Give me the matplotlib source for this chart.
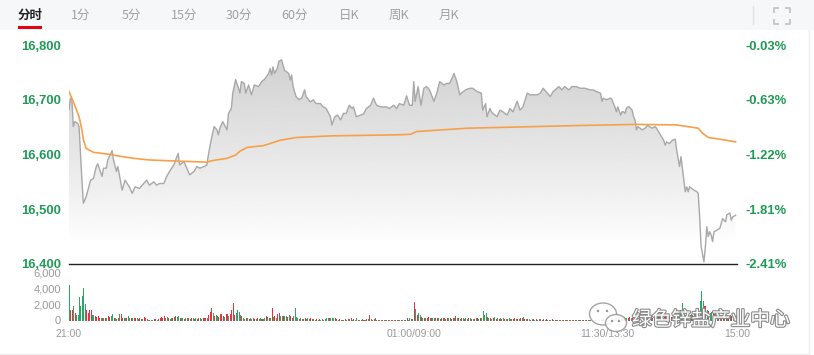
import matplotlib
matplotlib.use('Agg')
import matplotlib.pyplot as plt
import numpy as np
from matplotlib.patches import Rectangle, Ellipse
import matplotlib.patheffects as pe

# ---------------- data ----------------
TABS = ['分时', '1分', '5分', '15分', '30分', '60分', '日K', '周K', '月K']
PRICE_TICKS = [16400, 16500, 16600, 16700, 16800]
PRICE_LABELS = ['16,400', '16,500', '16,600', '16,700', '16,800']
PCT_LABELS = ['-2.41%', '-1.81%', '-1.22%', '-0.63%', '-0.03%']
VOL_TICKS = [0, 2000, 4000, 6000]
VOL_LABELS = ['0', '2,000', '4,000', '6,000']
TIME_TICKS = [0, 240, 375, 465]
TIME_LABELS = ['21:00', '01:00/09:00', '11:30/13:30', '15:00']

PRICE_MIN = [0, 1, 2, 3, 4, 6, 7, 8, 9, 10, 12, 15, 17, 19, 20, 23, 24, 26, 27, 30, 31, 33, 34, 37, 39,
             42, 44, 46, 49, 52, 54, 56, 59, 61, 63, 66, 68, 70, 73, 76, 77, 80, 82, 84, 87, 89, 91, 94,
             96, 97, 99, 101, 103, 104, 105, 107, 110, 111, 113, 114, 116,
             118, 119, 120, 122, 123, 125, 126, 127, 129, 132, 134, 136, 139, 140, 141, 142, 143, 145,
             146, 148, 149, 150, 153, 154, 155, 156, 158, 160, 162, 164, 165, 168, 170, 172, 175, 177,
             179, 182, 183, 185, 187, 189, 191, 193, 195, 197, 198, 200, 203, 205, 207, 210, 212, 214,
             217, 219, 221, 223, 226, 228, 230, 233, 235,
             237, 239, 240, 241, 243, 245, 247, 249, 251, 254, 256, 258, 261, 263, 265, 268, 270, 272,
             273, 276, 279, 281, 284, 287, 288, 290, 291, 293, 294, 295, 298, 300, 302, 305, 307, 309,
             312, 314, 316, 319, 321, 323, 326, 328, 330, 333, 335, 337, 341, 343, 345, 348, 350, 353, 356,
             359, 363, 365, 367, 370, 371, 372, 374, 377, 378, 379, 380, 381, 382, 384, 385, 386, 387,
             388, 389, 390, 392, 393, 394, 395, 396, 399, 401, 403, 404, 406, 408, 409, 411, 414, 415,
             416, 418, 420, 422, 423, 425, 426, 428, 429, 430, 431, 432, 435, 437, 438, 439, 440, 442,
             443, 444, 445, 446, 447, 448, 449, 451, 453, 454, 455, 457, 458, 460, 461, 462, 464]
PRICE_VAL = [16681, 16703, 16700, 16651, 16660, 16657, 16651, 16602, 16553, 16511, 16523, 16553, 16556,
             16578, 16583, 16560, 16575, 16575, 16590, 16607, 16590, 16569, 16578, 16535, 16553, 16541,
             16529, 16541, 16538, 16547, 16553, 16544, 16550, 16544, 16547, 16547, 16560, 16569, 16581,
             16602, 16581, 16587, 16575, 16563, 16569, 16578, 16575, 16578, 16581, 16599, 16627, 16651,
             16645, 16636, 16648, 16660, 16645, 16675, 16684, 16712, 16737,
             16721, 16712, 16733, 16730, 16712, 16727, 16718, 16709, 16727, 16724, 16733, 16737, 16748,
             16757, 16745, 16760, 16748, 16757, 16770, 16773, 16763, 16754, 16748, 16736, 16745, 16724,
             16706, 16700, 16703, 16718, 16706, 16696, 16700, 16693, 16693, 16687, 16684, 16669, 16654,
             16669, 16672, 16663, 16675, 16675, 16690, 16684, 16687, 16669, 16672, 16674, 16684, 16690,
             16703, 16690, 16687, 16687, 16687, 16684, 16690, 16684, 16693, 16690, 16707,
             16690, 16690, 16733, 16697, 16724, 16690, 16721, 16724, 16718, 16697, 16712, 16733, 16727,
             16730, 16730, 16748, 16733, 16709, 16712, 16718, 16721, 16721, 16715, 16712, 16681, 16693,
             16669, 16684, 16678, 16675, 16669, 16681, 16678, 16672, 16684, 16678, 16697, 16681, 16687,
             16712, 16709, 16709, 16709, 16712, 16721, 16712, 16706, 16715, 16724, 16718, 16724, 16718,
             16724, 16724, 16721,
             16721, 16718, 16718, 16715, 16712, 16697, 16703, 16700, 16703, 16700, 16693, 16687, 16678,
             16687, 16672, 16678, 16678, 16675, 16684, 16687, 16687, 16681, 16669, 16663, 16645, 16651,
             16645, 16648, 16654, 16651, 16648, 16651, 16648, 16639, 16626, 16617, 16623, 16620, 16626,
             16628, 16608, 16578, 16596, 16553, 16532, 16541, 16532, 16541, 16535, 16532, 16529, 16486,
             16432, 16404, 16432, 16468, 16450, 16459, 16453, 16441, 16459, 16462, 16465, 16474, 16483,
             16477, 16490, 16493, 16480, 16486, 16489]

AVG_MIN = [0, 4, 7, 9, 10, 12, 17, 29, 35, 45, 56, 75, 96, 100, 110, 116, 119, 124, 135, 140, 147,
           158, 182, 230, 238, 242, 277, 356, 395, 423, 438, 441, 445, 453, 464]
AVG_VAL = [16715, 16690, 16669, 16645, 16627, 16611, 16604, 16600, 16597, 16593, 16590, 16588, 16586,
           16589, 16593, 16599, 16606, 16613, 16616, 16620, 16626, 16631, 16634, 16636, 16637, 16642,
           16648, 16653, 16655, 16654, 16648, 16639, 16631, 16628, 16623]

VOL = [
    4400, 1350, 1350, 1850, 950, 740, 740, 2870, 1760, 3000, 4000, 2050, 1350, 950, 1350,
    1270, 660, 660, 530, 410, 600, 330, 250, 300, 250, 300, 250, 500, 450, 500,
    800, 300, 250, 200, 250, 800, 800, 350, 300, 350, 300, 500, 300, 250, 350,
    300, 250, 350, 200, 300, 150, 200, 400, 350, 150, 100, 100, 100, 60, 200,
    200, 100, 200, 350, 400, 350, 500, 300, 400, 250, 200, 300, 300, 450, 500,
    450, 600, 300, 250, 300, 200, 300, 250, 300, 200, 250, 300, 200, 250, 200,
    300, 250, 200, 300, 250, 250, 300, 700, 1000, 1500, 900, 500, 700, 600, 400,
    800, 800, 500, 400, 800, 800, 500, 800, 1300, 2200, 700, 900, 1300, 1000, 700,
    500, 300, 200, 300, 250, 200, 300, 200, 250, 150, 200, 300, 200, 250, 200,
    200, 300, 600, 400, 300, 300, 1600, 400, 500, 300, 800, 900, 500, 600, 500,
    600, 500, 400, 700, 600, 300, 500, 1600, 400, 300, 200, 300, 200, 150, 250,
    200, 300, 150, 250, 200, 150, 100, 150, 100, 200, 100, 150, 100, 200, 300,
    300, 250, 300, 350, 300, 250, 150, 100, 150, 100, 80, 100, 150, 100, 200,
    150, 350, 100, 150, 100, 300, 100, 80, 100, 150, 100, 80, 150, 200, 700,
    150, 100, 150, 250, 100, 80, 50, 100, 80, 60, 100, 50, 80, 100, 60,
    100, 80, 60, 100, 50, 80, 100, 60, 80, 120, 300, 100, 300, 150, 200,
    2250, 1400, 740, 950, 740, 400, 350, 300, 250, 300, 400, 300, 250, 300, 350,
    300, 250, 300, 200, 250, 300, 250, 200, 300, 250, 300, 200, 250, 300, 530,
    300, 250, 200, 250, 300, 200, 250, 200, 300, 250, 200, 150, 200, 250, 300,
    200, 250, 300, 1150, 740, 950, 450, 330, 250, 200, 250, 450, 200, 250, 200,
    300, 200, 250, 200, 150, 200, 250, 150, 200, 150, 250, 200, 150, 200, 250,
    330, 450, 200, 150, 200, 150, 100, 150, 200, 100, 150, 100, 200, 150, 100,
    200, 100, 150, 100, 80, 100, 150, 100, 80, 100, 60, 100, 80, 60, 100,
    60, 80, 100, 60, 80, 100, 60, 80, 50, 100, 60, 80, 100, 60, 80,
    100, 80, 60, 100, 80, 120, 100, 80, 150, 100, 120, 80, 150, 100, 150,
    300, 250, 400, 600, 300, 250, 300, 400, 300, 250, 300, 450, 250, 300, 350,
    400, 300, 250, 300, 350, 400, 300, 350, 300, 400, 350, 300, 400, 450, 350,
    400, 350, 450, 400, 500, 450, 400, 500, 450, 400, 550, 500, 450, 500, 400,
    450, 500, 550, 600, 700, 1350, 1000, 2200, 1150, 740, 740, 600, 700, 800, 650,
    800, 900, 1300, 1500, 2400, 3700, 2400, 1800, 1850, 1350, 1150, 950, 1000, 900, 800,
    750, 700, 800, 650, 700, 750, 600, 700, 650, 600, 700, 600, 450, 500, 400,
]
VOL_DIR = ("GRRGRGGGGGGGRRR" "RGGRRRRGRGRGRRG" "GRGGRGRRGGRGGRG" "RRGGRRGRRGGRGGR"
           "RGRRRRRGGRGGRGR" "GGRGGRGGRGRGRGR" "RGGRRRGRRRGRGGR" "RRRGRRGRRRRGGGG"
           "RGGRGRGGRRGRGGR" "GGRGRGRGRGRRGGR" "GGRGRRGGGGRGRGR" "GGRRGRGRGRGGRGG"
           "GRGGGRRGRGRGRGR" "GRGRGGRGRGRGRGR" "GRRGRGRGRGRGRGR" "RGRGRGRGRGRGGRG"
           "RGRGGRGRGRRGRGR" "GRGRGRGRRGRGRGR" "GRGRGRGGRGRGRGR" "GRGGGGRGRGRGRGR"
           "GRGRGRGRGRRGRGR" "RGRGRGRGRGRGRGR" "RGRGRGRGRGRGRGR" "GRGRGRGRGRGRGRG"
           "RGRGRGRGRGRGRGR" "GRGGRGRRGRGGRGR" "RGRGRGGRGRGRRGR" "GRGRGRGRGRRRGGR"
           "GRGRGGGGGRGGRGR" "GGGGGGGRRGRGGRG" "RGRGRRGRGRGRGRG")

# ---------------- styling ----------------
W, H = 814, 355
GREEN_TXT = '#1f9a55'
GRAY_TXT = '#9a9a9a'
NUMFONT = 'Liberation Sans'
CJK = ['Noto Sans CJK SC', 'DejaVu Sans']

fig = plt.figure(figsize=(W / 100, H / 100), dpi=100)
fig.patch.set_facecolor('white')


def fx(px):
    return px / W


def fy(py):
    return 1 - py / H


# background / chrome
bg = fig.add_axes([0, 0, 1, 1], zorder=0)
bg.set_xlim(0, W)
bg.set_ylim(H, 0)
bg.axis('off')
bg.add_patch(Rectangle((0, 0), W, 30, color='#f6f7f9', lw=0))
tab_x = [30, 81, 131, 184, 239, 295, 349, 399, 449]
for i, (t, x) in enumerate(zip(TABS, tab_x)):
    bg.text(x, 15, t, ha='center', va='center', fontsize=9, family=CJK,
            color='#222222' if i == 0 else '#a0a0a0', fontweight='bold' if i == 0 else 'normal')
bg.add_patch(Rectangle((18, 26), 24, 3, color='#e60012', lw=0))
bg.plot([753, 753], [6, 24], color='#e2e2e2', lw=1)
c = '#c8c8c8'
for (x0, y0, dx, dy) in [(774, 8, 1, 1), (790, 8, -1, 1), (774, 24, 1, -1), (790, 24, -1, -1)]:
    bg.plot([x0 + 5 * dx, x0, x0], [y0, y0, y0 + 5 * dy], color=c, lw=1.4, solid_capstyle='butt')
bg.plot([808.5, 808.5], [30, 354], color='#ececec', lw=1)
bg.plot([0, 808.5], [354, 354], color='#ececec', lw=1)

# price axes
ax = fig.add_axes([fx(69), fy(264), fx(737) - fx(69), (264 - 45) / H], zorder=2)
ax.set_facecolor('none')
ax.set_xlim(0, 465)
ax.set_ylim(16400, 16800)

poly = ax.fill_between(PRICE_MIN, PRICE_VAL, 16400, color='none', lw=0)
ys = np.linspace(16400, 16800, 400)
alpha = np.clip((ys - 16440) / (16800 - 16440), 0, 1) ** 0.9 * 0.95
img = np.zeros((400, 1, 4))
img[..., 0] = 0.80
img[..., 1] = 0.80
img[..., 2] = 0.80
img[:, 0, 3] = alpha
im = ax.imshow(img, extent=[0, 465, 16400, 16800], origin='lower', aspect='auto',
               interpolation='bilinear', zorder=1)
im.set_clip_path(poly.get_paths()[0], transform=ax.transData)

ax.plot(PRICE_MIN, PRICE_VAL, color='#a8a8a8', lw=1.0, zorder=3)
ax.plot(AVG_MIN, AVG_VAL, color='#f7a04b', lw=1.2, zorder=4)

for s in ['top', 'left', 'right']:
    ax.spines[s].set_visible(False)
ax.spines['bottom'].set_color('#222222')
ax.spines['bottom'].set_linewidth(1.0)
ax.set_xticks([])
ax.set_yticks(PRICE_TICKS)
ax.set_yticklabels(PRICE_LABELS, color=GREEN_TXT, fontweight='bold', family=NUMFONT, fontsize=9.4)
ax.tick_params(axis='y', length=0, pad=5.8)

ax2 = ax.twinx()
ax2.set_ylim(16400, 16800)
for s in ax2.spines.values():
    s.set_visible(False)
ax2.set_yticks(PRICE_TICKS)
ax2.set_yticklabels(PCT_LABELS, color=GREEN_TXT, fontweight='bold', family=NUMFONT, fontsize=9.4)
ax2.tick_params(axis='y', length=0, pad=6.3)

# volume axes
vax = fig.add_axes([fx(69), fy(320.5), fx(737) - fx(69), (320.5 - 272) / H], zorder=2)
vax.set_facecolor('none')
vax.set_xlim(0, 465)
vax.set_ylim(0, 6000)
n = min(len(VOL), len(VOL_DIR))
cols = ['#e8333f' if VOL_DIR[i] == 'R' else '#2ca565' for i in range(n)]
vax.bar(np.arange(n), VOL[:n], width=0.7, color=cols, lw=0, align='edge')
for s in vax.spines.values():
    s.set_visible(False)
vax.set_yticks(VOL_TICKS)
vax.set_yticklabels(VOL_LABELS, color=GRAY_TXT, family=NUMFONT, fontsize=8)
vax.set_xticks(TIME_TICKS)
vax.set_xticklabels(TIME_LABELS, color=GRAY_TXT, family=NUMFONT, fontsize=7.5)
vax.tick_params(axis='both', length=0)
vax.tick_params(axis='y', pad=5.8)
vax.tick_params(axis='x', pad=6.0)

# watermark overlay
fg = fig.add_axes([0, 0, 1, 1], zorder=5)
fg.set_facecolor('none')
fg.set_xlim(0, W)
fg.set_ylim(H, 0)
fg.axis('off')
e1 = Ellipse((603, 314), 27, 22, facecolor='white', edgecolor='#9a9a9a', lw=1.0, alpha=0.9)
e2 = Ellipse((616, 323), 21, 17, facecolor='white', edgecolor='#9a9a9a', lw=1.0, alpha=0.9)
fg.add_patch(e1)
fg.add_patch(e2)
for (x, y) in [(598, 311), (607, 311), (612, 321), (619, 321)]:
    fg.add_patch(Ellipse((x, y), 2.5, 2.5, color='#9a9a9a', lw=0))
fg.text(632, 320, '绿色锌盐产业中心', ha='left', va='center', fontsize=14.2, family=CJK,
        color='white', path_effects=[pe.withStroke(linewidth=1.6, foreground='#8a8a8a')])

fig.savefig('out.png', dpi=100, facecolor='white')
